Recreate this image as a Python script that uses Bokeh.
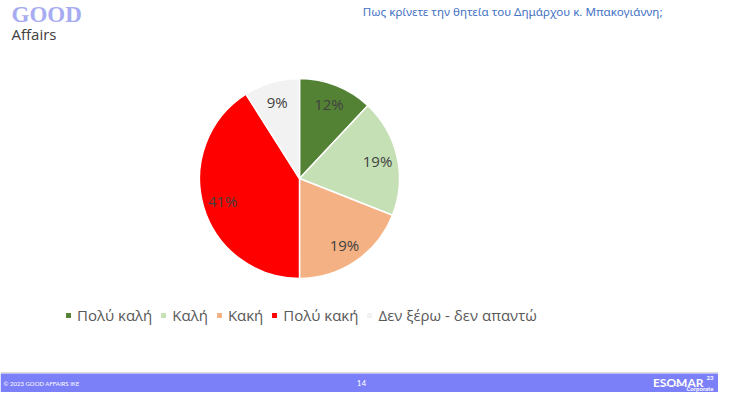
import math
from bokeh.plotting import figure
from bokeh.models import Legend, LegendItem, ColumnDataSource, Range1d
from bokeh.core.properties import value
from bokeh.embed import file_html
from bokeh.resources import INLINE

# ---- data ----
categories = ["Πολύ καλή", "Καλή", "Κακή", "Πολύ κακή", "Δεν ξέρω - δεν απαντώ"]
shares = [12, 19, 19, 41, 9]
colors = ["#548235", "#C5E0B4", "#F4B183", "#FF0000", "#F2F2F2"]
title_text = "Πως κρίνετε την θητεία του Δημάρχου κ. Μπακογιάννη;"
page_number = "14"

# ---- geometry (pixel coords, y measured from figure bottom) ----
W, H = 718, 392
def Y(img_y):
    return H - img_y

cx, cy, R = 299, Y(178), 100

total = sum(shares)
starts, ends, lx, ly, labels = [], [], [], [], []
cum = 0.0
for v in shares:
    a0 = math.pi / 2 - 2 * math.pi * cum / total
    a1 = math.pi / 2 - 2 * math.pi * (cum + v) / total
    starts.append(a0)
    ends.append(a1)
    mid = (a0 + a1) / 2
    lx.append(cx + 0.8 * R * math.cos(mid))
    ly.append(cy + 0.8 * R * math.sin(mid))
    labels.append(f"{v}%")
    cum += v

src = ColumnDataSource(dict(cat=categories, start=starts, end=ends, color=colors,
                            lx=lx, ly=ly, label=labels))

p = figure(width=W, height=H, output_backend="svg", toolbar_location=None,
           x_range=Range1d(0, W), y_range=Range1d(0, H),
           min_border=0, outline_line_color=None)
p.axis.visible = False
p.grid.visible = False
p.background_fill_color = "white"
p.border_fill_color = "white"

wr = p.wedge(x=cx, y=cy, radius=R, start_angle="start", end_angle="end",
             direction="clock", fill_color="color", line_color="white",
             line_width=1.5, source=src)

p.text(x="lx", y="ly", text="label", source=src, text_align="center",
       text_baseline="middle", text_font=value("Open Sans"),
       text_font_size="15px", text_color="#404040")

# legend
items = [LegendItem(label=c, renderers=[wr], index=i) for i, c in enumerate(categories)]
legend = Legend(items=items, orientation="horizontal", location=(64, Y(325)),
                glyph_width=8, glyph_height=8, label_standoff=5, spacing=7,
                padding=0, margin=0, border_line_alpha=0, background_fill_alpha=0,
                label_text_font="Open Sans", label_text_font_size="15px",
                label_text_color="#595959")
p.add_layout(legend, "center")

# title
p.text(x=[662], y=[Y(11)], text=[title_text], text_align="right", text_baseline="middle",
       text_font=value("Noto Sans"), text_font_size="11.6px", text_color="#4472C4")

# logo
p.text(x=[11], y=[Y(1)], text=["GOOD"], text_baseline="top",
       text_font=value("Liberation Serif"), text_font_style="bold",
       text_font_size="23px", text_color="#A6ABF2")
p.text(x=[11], y=[Y(23)], text=["Affairs"], text_baseline="top",
       text_font=value("Open Sans"), text_font_size="15px", text_color="#404040")

# footer
p.quad(left=0, right=W, bottom=0, top=Y(373), fill_color="#7C80F8", line_color=None)
p.segment(x0=0, x1=W, y0=Y(372), y1=Y(372), line_color="#D9D9D9", line_width=1)
p.text(x=[3], y=[Y(383)], text=["© 2023 GOOD AFFAIRS IKE"], text_baseline="middle",
       text_font=value("Lato"), text_font_size="6px", text_color="#FFFFFF")
p.text(x=[361], y=[Y(382)], text=[page_number], text_align="center", text_baseline="middle",
       text_font=value("Lato"), text_font_size="8px", text_color="#FFFFFF")
p.text(x=[703], y=[Y(382)], text=["ESOMAR"], text_align="right", text_baseline="alphabetic",
       text_font=value("Lato"), text_font_style="bold", text_font_size="12px",
       text_color="#FFFFFF")
p.text(x=[713], y=[Y(377)], text=["23"], text_align="right", text_baseline="alphabetic",
       text_font=value("Lato"), text_font_style="bold", text_font_size="6px",
       text_color="#FFFFFF")
p.segment(x0=660, x1=684, y0=Y(385), y1=Y(385), line_color="#D9DAFD", line_width=1)
p.text(x=[713], y=[Y(388)], text=["Corporate"], text_align="right", text_baseline="alphabetic",
       text_font=value("Lato"), text_font_style="bold", text_font_size="6px",
       text_color="#FFFFFF")

open("out.html", "w").write(file_html(p, INLINE))
